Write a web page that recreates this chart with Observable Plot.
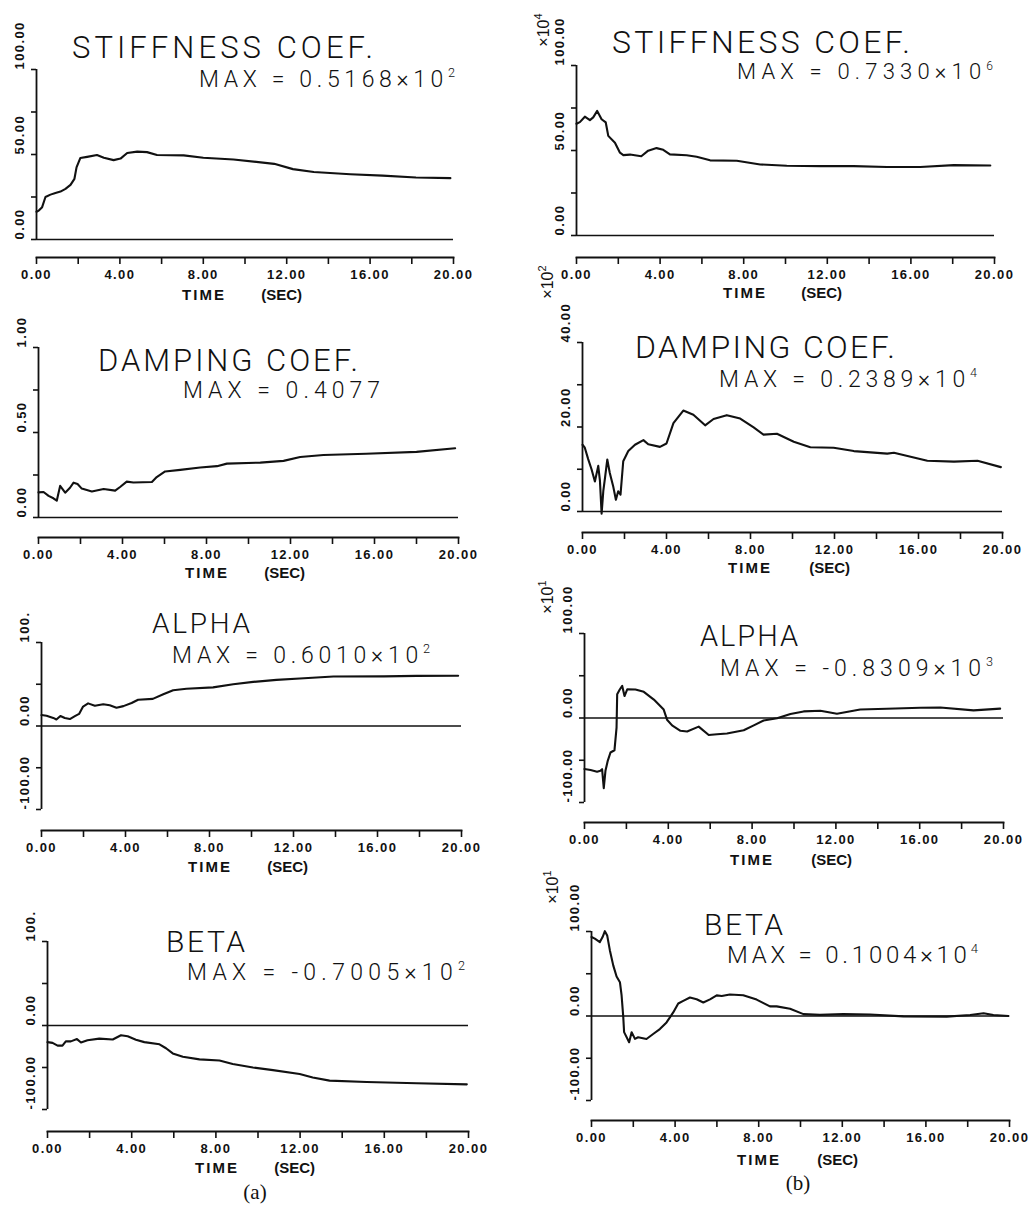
<!DOCTYPE html>
<html><head><meta charset="utf-8">
<script src="https://cdn.jsdelivr.net/npm/d3@7"></script>
<script src="https://cdn.jsdelivr.net/npm/@observablehq/plot@0.6"></script>
<style>
html,body{margin:0;padding:0;background:#fff;}
#root{position:relative;width:1033px;height:1209px;overflow:hidden;background:#fff;}
#root svg{position:absolute;overflow:visible;}
#root svg.panel text{letter-spacing:1.4px;}
</style></head><body><div id="root"></div>
<script>
// ---------- data ----------
const xTicks = [0,2,4,6,8,10,12,14,16,18,20];
const xLabelTicks = [0,4,8,12,16,20];
const xTickLabels = ["0.00","4.00","8.00","12.00","16.00","20.00"];

const stiffA_t = [0,0.11,0.27,0.43,0.67,0.91,1.15,1.39,1.63,1.82,1.92,2.1,2.43,2.9,3.23,3.7,4.03,4.35,4.83,5.3,5.78,7.06,8.0,9.45,11.4,12.3,13.3,15.05,16.6,18.2,19.85];
const stiffA_v = [16.3,17,19,25,26.4,27.4,28.2,29.8,32.1,35.7,42.4,47.9,48.6,49.7,48.1,46.7,47.6,50.9,51.68,51.4,49.7,49.5,48.1,47.1,44.5,41.4,39.7,38.4,37.6,36.5,36.1];

const dampA_t = [0,0.24,0.48,0.71,0.87,1.03,1.27,1.5,1.67,1.86,2.06,2.54,3.1,3.65,3.9,4.2,4.52,5.4,5.63,6.03,6.75,7.7,8.5,8.97,10.56,11.67,12.46,13.57,15.6,18.0,19.84];
const dampA_v = [0.148,0.15,0.127,0.113,0.099,0.186,0.146,0.175,0.205,0.197,0.17,0.153,0.168,0.158,0.181,0.211,0.206,0.209,0.238,0.271,0.28,0.294,0.302,0.317,0.323,0.333,0.356,0.368,0.375,0.386,0.4077];

const alphaA_t = [0,0.24,0.56,0.71,0.9,1.11,1.35,1.59,1.79,1.98,2.22,2.54,2.94,3.25,3.57,3.9,4.29,4.6,5.3,5.8,6.27,6.9,8.17,9.13,10.08,11.19,12.3,13.9,16.3,17.86,19.84];
const alphaA_v = [13.1,12.2,9.7,7.8,12.0,9.5,8.3,11.8,14.5,23.3,27.1,24.2,26.1,24.8,21.9,23.8,27.6,31.5,32.5,38.0,42.9,44.7,46.3,50.0,52.8,55.2,56.9,59.2,59.4,60.0,60.1];

const betaA_t = [0,0.24,0.48,0.71,0.87,1.11,1.4,1.59,1.9,2.46,3.1,3.49,3.81,4.2,4.6,5.32,5.63,5.95,6.43,7.22,8.17,8.8,9.76,10.71,11.98,12.6,13.4,15.16,17.54,19.92];
const betaA_v = [-19.8,-20.7,-23.9,-24.0,-18.8,-18.9,-16.2,-20.2,-17.5,-15.6,-16.6,-11.6,-12.9,-16.9,-19.8,-22.4,-27.1,-33.2,-37.3,-40.3,-41.7,-45.9,-50.0,-53.1,-57.8,-61.8,-65.6,-67.3,-68.7,-70.05];

const stiffB_t = [0,0.16,0.4,0.64,0.8,0.99,1.2,1.4,1.52,1.84,2.08,2.24,2.56,3.1,3.43,3.83,4.15,4.47,5.27,5.75,6.39,7.67,8.79,10.06,11.66,13.26,14.86,16.45,18.05,19.8];
const stiffB_v = [65.7,66.7,69.9,67.9,69.5,73.3,68.4,66.5,58.6,54.6,48.7,47.3,47.6,46.6,49.9,51.4,50.4,47.7,47.2,46.3,44.2,44.0,41.8,41.0,40.8,40.8,40.3,40.3,41.4,41.2];

const dampB_t = [0,0.11,0.27,0.43,0.59,0.75,0.83,0.91,0.99,1.07,1.18,1.3,1.46,1.59,1.7,1.81,1.94,2.18,2.5,2.9,3.13,3.69,4.0,4.33,4.8,5.28,5.84,6.24,6.87,7.51,8.15,8.62,9.26,10.06,10.85,11.96,12.92,14.51,14.83,16.42,17.69,18.81,19.92];
const dampB_v = [15.8,15.1,12.4,10.0,7.1,10.8,7.3,-0.5,4.8,7.9,12.3,9.1,6.0,2.8,4.8,4.0,11.9,14.3,15.8,16.9,15.9,15.3,16.1,20.9,23.89,22.9,20.4,21.9,22.8,22.0,19.9,18.2,18.4,16.5,15.2,15.1,14.3,13.7,13.9,12.0,11.8,12.0,10.5];

const alphaB_t = [0,0.29,0.6,0.76,0.84,0.92,1.0,1.11,1.24,1.43,1.53,1.56,1.69,1.8,1.91,2.04,2.43,2.83,3.31,3.78,3.94,4.18,4.58,4.9,5.45,5.93,6.33,6.8,7.6,8.08,8.55,9.19,9.83,10.46,11.26,12.05,13.16,14.43,16.03,16.98,18.57,19.84];
const alphaB_v = [-60.4,-61.6,-63.6,-62.4,-60.6,-83.09,-62.5,-50.7,-40.8,-38.2,-11.3,28.1,34.0,37.9,26.0,33.9,33.8,31.0,21.8,10.0,-2.0,-8.7,-15.1,-16.0,-10.2,-20.1,-19.3,-18.3,-14.5,-8.7,-2.9,-0.2,4.8,7.8,8.5,5.1,10.0,11.0,12.2,12.5,9.0,11.1];

const betaB_t = [0,0.16,0.4,0.53,0.64,0.75,0.88,1.04,1.2,1.36,1.44,1.52,1.56,1.8,1.92,2.08,2.23,2.63,2.95,3.27,3.59,3.91,4.15,4.39,4.71,5.03,5.35,5.67,5.99,6.23,6.62,7.26,7.9,8.54,8.86,9.5,10.14,10.93,12.05,13.33,14.92,17.0,18.12,18.76,19.23,19.95];
const betaB_v = [93.5,91.5,87.5,93.4,100.4,95.4,77.6,59.9,46.7,40.0,24.3,-1.4,-19.1,-31.0,-19.2,-27.1,-25.2,-27.2,-21.3,-15.5,-7.6,4.2,14.8,17.9,21.9,19.8,15.9,19.7,24.4,23.6,25.5,24.6,19.4,11.4,11.4,8.6,2.2,1.3,2.2,1.8,-0.5,-0.7,1.1,3.3,1.2,0.0];

const stiffDomain = [0,100], stiffTicks = [0,25,50,75,100], stiffLabVals = [0,50,100], stiffLabs = ["0.00","50.00","100.00"];
const dampADomain = [0,1], dampATicks = [0,0.25,0.5,0.75,1], dampALabVals = [0,0.5,1], dampALabs = ["0.00","0.50","1.00"];
const dampBDomain = [0,40], dampBTicks = [0,10,20,30,40], dampBLabVals = [0,20,40], dampBLabs = ["0.00","20.00","40.00"];
const symDomain = [-100,100], symTicks = [-100,-50,0,50,100], symLabVals = [-100,0,100];
const symLabsA = ["-100.00","0.00","100."], symLabsB = ["-100.00","0.00","100.00"];

const titles = ["STIFFNESS COEF.","DAMPING COEF.","ALPHA","BETA","STIFFNESS COEF.","DAMPING COEF.","ALPHA","BETA"];
const maxMantissa = ["0.5168×10","0.4077","0.6010×10","-0.7005×10","0.7330×10","0.2389×10","-0.8309×10","0.1004×10"];
const maxExponent = ["2","","2","2","6","4","3","4"];
const scaleExponent = [null,null,null,null,"4","2","1","1"];
const subLabels = ["(a)","(b)"];

// ---------- layout ----------
const root = document.getElementById("root");
const FONT = "'Liberation Sans', Arial, sans-serif";
const TITLE_FONT = "Roboto, 'Liberation Sans', sans-serif";
const panels = [
  {t:stiffA_t, v:stiffA_v, dom:stiffDomain, ticks:stiffTicks, lv:stiffLabVals, lt:stiffLabs, x0:36, x20:453, yTop:69, yBot:239, ax:257,
   title:[72,58,301,31], max:[199,87,256,23], time:[182,302,300]},
  {t:dampA_t, v:dampA_v, dom:dampADomain, ticks:dampATicks, lv:dampALabVals, lt:dampALabs, x0:38, x20:458, yTop:347, yBot:517, ax:537,
   title:[98,371,260,31], max:[183,398,197,23], time:[185,305,578]},
  {t:alphaA_t, v:alphaA_v, dom:symDomain, ticks:symTicks, lv:symLabVals, lt:symLabsA, x0:41, x20:461, yTop:642, yBot:809, ax:830,
   title:[152,633,98,28], max:[172,663,258,23], time:[188,308,872]},
  {t:betaA_t, v:betaA_v, dom:symDomain, ticks:symTicks, lv:symLabVals, lt:symLabsA, x0:47, x20:468, yTop:941, yBot:1109, ax:1131,
   title:[166,952,79,30], max:[187,980,278,23], time:[195,315,1173]},
  {t:stiffB_t, v:stiffB_v, dom:stiffDomain, ticks:stiffTicks, lv:stiffLabVals, lt:stiffLabs, x0:576, x20:994, yTop:65, yBot:235, ax:257,
   title:[612,53,298,32], max:[737,79,256,22], time:[723,842,298], exp:[543,30]},
  {t:dampB_t, v:dampB_v, dom:dampBDomain, ticks:dampBTicks, lv:dampBLabVals, lt:dampBLabs, x0:582, x20:1002, yTop:342, yBot:511, ax:532,
   title:[635,358,260,32], max:[719,387,258,23], time:[728,850,573], exp:[547,282]},
  {t:alphaB_t, v:alphaB_v, dom:symDomain, ticks:symTicks, lv:symLabVals, lt:symLabsB, x0:584, x20:1003, yTop:633, yBot:802, ax:822,
   title:[700,646,98,29], max:[720,676,273,23], time:[730,852,865], exp:[547,597]},
  {t:betaB_t, v:betaB_v, dom:symDomain, ticks:symTicks, lv:symLabVals, lt:symLabsB, x0:591, x20:1009, yTop:931, yBot:1100, ax:1120,
   title:[704,935,79,30], max:[727,963,251,24], time:[737,858,1165], exp:[552,887]}
];

const mL = 34, mR = 32, mT = 32, mB = 30;
panels.forEach(cfg => {
  const width = mL + (cfg.x20 - cfg.x0) + mR;
  const height = mT + (cfg.ax - cfg.yTop) + mB;
  const data = cfg.t.map((t, i) => ({t, v: cfg.v[i]}));
  const labels = cfg.lv.map((y, i) => ({y, s: cfg.lt[i]}));
  const yAxisLine = [{x: 0, lo: cfg.dom[0], hi: cfg.dom[1]}];
  const svg = Plot.plot({
    width, height, marginLeft: mL, marginRight: mR, marginTop: mT, marginBottom: mB,
    style: {fontFamily: FONT, background: "transparent", color: "#111", overflow: "visible"},
    x: {domain: [0, 20], label: null},
    y: {domain: cfg.dom, range: [mT + (cfg.yBot - cfg.yTop), mT], label: null},
    marks: [
      Plot.axisX({ticks: xTicks, tickSize: 7, tickPadding: 5, label: null, fontSize: 13, fontWeight: "bold", strokeWidth: 1.6,
        tickFormat: d => { const i = xLabelTicks.indexOf(d); return i < 0 ? "" : xTickLabels[i]; }}),
      Plot.frame({anchor: "bottom", strokeWidth: 1.8}),
      Plot.axisY({ticks: cfg.ticks, tickSize: 5, label: null, tickFormat: () => "", strokeWidth: 1.6}),
      Plot.ruleX(yAxisLine, {x: "x", y1: "lo", y2: "hi", strokeWidth: 1.8, stroke: "#111"}),
      Plot.ruleY([0], {strokeWidth: 1.6}),
      Plot.text(labels, {frameAnchor: "left", y: "y", text: "s", rotate: -90, dx: -17, fontSize: 13, fontWeight: "bold"}),
      Plot.line(data, {x: "t", y: "v", strokeWidth: 2.1, stroke: "#111"})
    ]
  });
  svg.classList.add("panel");
  svg.style.left = (cfg.x0 - mL) + "px";
  svg.style.top = (cfg.yTop - mT) + "px";
  root.appendChild(svg);
});

// ---------- text overlay ----------
const ov = d3.select(root).append("svg")
  .attr("width", 1033).attr("height", 1209)
  .style("left", "0px").style("top", "0px").style("pointer-events", "none")
  .attr("font-family", FONT).attr("fill", "#111");

panels.forEach((cfg, k) => {
  const [tx, ty, tl, tf] = cfg.title;
  ov.append("text").attr("x", tx).attr("y", ty).attr("font-size", tf)
    .attr("font-family", TITLE_FONT).attr("font-weight", 300)
    .attr("textLength", tl).attr("lengthAdjust", "spacing").text(titles[k]);
  const [mx, my, ml, mf] = cfg.max;
  const mt = ov.append("text").attr("x", mx).attr("y", my).attr("font-size", mf)
    .attr("font-family", TITLE_FONT).attr("font-weight", 300)
    .attr("textLength", ml).attr("lengthAdjust", "spacing");
  mt.append("tspan").text("MAX = " + maxMantissa[k]);
  if (maxExponent[k]) mt.append("tspan").attr("dy", -mf * 0.42).attr("font-size", mf * 0.55).text(maxExponent[k]);
  const [t1, t2, tb] = cfg.time;
  ov.append("text").attr("x", t1).attr("y", tb).attr("font-size", 15).attr("font-weight", "bold")
    .attr("textLength", 42).attr("lengthAdjust", "spacing").text("TIME");
  ov.append("text").attr("x", t2).attr("y", tb).attr("font-size", 15).attr("font-weight", "bold")
    .attr("text-anchor", "end").text("(SEC)");
  if (scaleExponent[k]) {
    const [ex, ey] = cfg.exp;
    const et = ov.append("text").attr("transform", `translate(${ex},${ey}) rotate(-90)`)
      .attr("text-anchor", "middle").attr("dy", "0.35em").attr("font-size", 16);
    et.append("tspan").text("×10");
    et.append("tspan").attr("dy", "-0.6em").attr("font-size", 11).text(scaleExponent[k]);
  }
});
ov.append("text").attr("x", 255).attr("y", 1199).attr("text-anchor", "middle")
  .attr("font-family", "'Liberation Serif', serif").attr("font-size", 21).text(subLabels[0]);
ov.append("text").attr("x", 798).attr("y", 1190).attr("text-anchor", "middle")
  .attr("font-family", "'Liberation Serif', serif").attr("font-size", 21).text(subLabels[1]);
</script>
</body></html>
